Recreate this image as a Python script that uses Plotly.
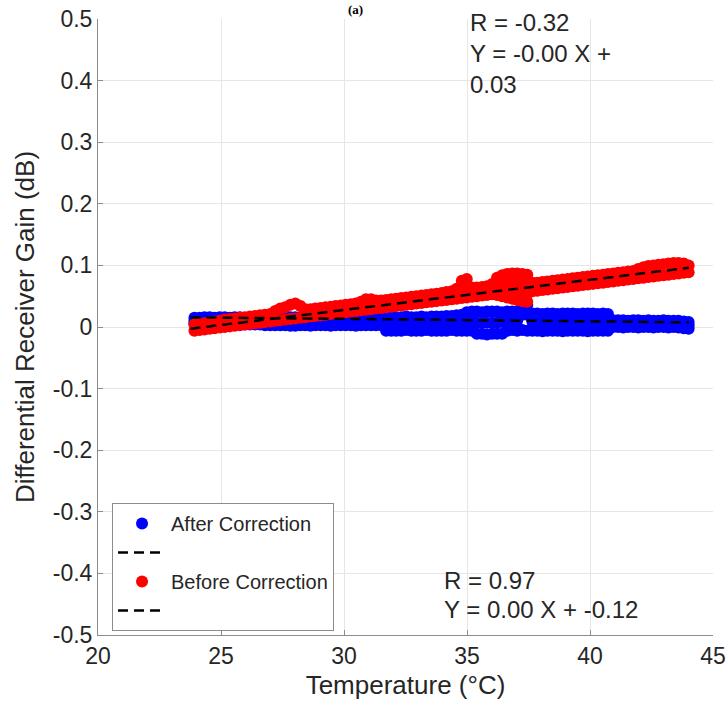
import plotly.graph_objects as go

# ---- data ----
temp = [23.92, 24.13, 24.33, 24.54, 24.74, 24.95, 25.15, 25.36, 25.56, 25.77,
        25.97, 26.18, 26.38, 26.59, 26.79, 27.00, 27.20, 27.41, 27.61, 27.82,
        28.02, 28.23, 28.43, 28.64, 28.84, 29.05, 29.25, 29.46, 29.66, 29.87,
        30.07, 30.28, 30.48, 30.69, 30.89, 31.10, 31.30, 31.51, 31.71, 31.92,
        32.12, 32.33, 32.53, 32.74, 32.94, 33.15, 33.35, 33.56, 33.76, 33.97,
        34.17, 34.38, 34.58, 34.79, 34.99, 35.20, 35.40, 35.61, 35.81, 36.02,
        36.22, 36.43, 36.63, 36.84, 37.04, 37.25, 37.45, 37.66, 37.86, 38.07,
        38.27, 38.48, 38.68, 38.89, 39.09, 39.30, 39.50, 39.71, 39.91, 40.12,
        40.32, 40.53, 40.73, 40.94, 41.14, 41.35, 41.55, 41.76, 41.96, 42.17,
        42.37, 42.58, 42.78, 42.99, 43.19, 43.40, 43.60, 43.81, 44.01]

# Before Correction (red): upper and lower edge of the band
before_hi = [0.004, 0.005, 0.006, 0.008, 0.009, 0.010, 0.012, 0.013, 0.014, 0.015,
             0.016, 0.017, 0.018, 0.019, 0.020, 0.021, 0.026, 0.030, 0.032, 0.036,
             0.038, 0.034, 0.029, 0.029, 0.030, 0.031, 0.032, 0.033, 0.034, 0.035,
             0.036, 0.037, 0.038, 0.041, 0.045, 0.045, 0.043, 0.043, 0.044, 0.045,
             0.046, 0.047, 0.048, 0.049, 0.050, 0.051, 0.052, 0.053, 0.054, 0.055,
             0.057, 0.058, 0.062, 0.075, 0.078, 0.064, 0.064, 0.065, 0.066, 0.070,
             0.080, 0.084, 0.086, 0.087, 0.087, 0.086, 0.085, 0.072, 0.072, 0.073,
             0.074, 0.075, 0.076, 0.077, 0.078, 0.079, 0.080, 0.081, 0.082, 0.083,
             0.084, 0.085, 0.086, 0.087, 0.088, 0.089, 0.090, 0.091, 0.094, 0.097,
             0.099, 0.100, 0.101, 0.102, 0.103, 0.104, 0.104, 0.103, 0.100]
before_lo = [-0.006, -0.005, -0.004, -0.003, -0.002, -0.001, 0.000, 0.001, 0.002, 0.003,
             0.004, 0.005, 0.006, 0.007, 0.008, 0.009, 0.010, 0.011, 0.012, 0.013,
             0.014, 0.015, 0.016, 0.017, 0.018, 0.019, 0.020, 0.021, 0.022, 0.023,
             0.024, 0.025, 0.026, 0.027, 0.028, 0.029, 0.030, 0.031, 0.032, 0.033,
             0.034, 0.035, 0.036, 0.037, 0.038, 0.039, 0.040, 0.041, 0.042, 0.043,
             0.044, 0.045, 0.046, 0.047, 0.048, 0.049, 0.050, 0.051, 0.052, 0.053,
             0.052, 0.050, 0.048, 0.046, 0.044, 0.042, 0.041, 0.058, 0.059, 0.060,
             0.061, 0.062, 0.063, 0.064, 0.065, 0.066, 0.067, 0.068, 0.069, 0.070,
             0.071, 0.072, 0.073, 0.074, 0.075, 0.076, 0.077, 0.078, 0.079, 0.080,
             0.081, 0.082, 0.083, 0.084, 0.085, 0.086, 0.087, 0.088, 0.089]
before_extra_x = [34.79, 34.99, 34.79, 34.99, 36.22, 36.43, 36.63, 36.84, 37.04, 37.25, 37.45,
                  36.43, 36.63, 36.84, 37.04, 37.25, 37.45]
before_extra_y = [0.066, 0.068, 0.057, 0.058, 0.066, 0.073, 0.075, 0.076, 0.075, 0.074, 0.072,
                  0.062, 0.062, 0.060, 0.058, 0.056, 0.054]

# After Correction (blue): upper edge, middle and lower edge of the band
after_hi = [0.015, 0.015, 0.016, 0.016, 0.015, 0.016, 0.016, 0.015, 0.016, 0.016,
            0.015, 0.016, 0.016, 0.015, 0.016, 0.016, 0.016, 0.016, 0.015, 0.016,
            0.016, 0.016, 0.015, 0.016, 0.016, 0.016, 0.015, 0.016, 0.016, 0.016,
            0.016, 0.015, 0.016, 0.016, 0.016, 0.016, 0.015, 0.016, 0.016, 0.017,
            0.016, 0.016, 0.017, 0.016, 0.016, 0.017, 0.016, 0.017, 0.017, 0.017,
            0.018, 0.018, 0.019, 0.020, 0.024, 0.025, 0.025, 0.024, 0.025, 0.025,
            0.025, 0.024, 0.025, 0.025, 0.025, 0.037, 0.036, 0.022, 0.022, 0.021,
            0.022, 0.022, 0.021, 0.022, 0.022, 0.022, 0.021, 0.022, 0.022, 0.022,
            0.021, 0.022, 0.021, 0.011, 0.011, 0.011, 0.010, 0.011, 0.011, 0.010,
            0.011, 0.010, 0.010, 0.011, 0.010, 0.010, 0.010, 0.009, 0.008]
after_mid = [0.010, 0.010, 0.011, 0.010, 0.010, 0.011, 0.010, 0.010, 0.010, 0.010,
             0.010, 0.010, 0.010, 0.009, 0.010, 0.009, 0.009, 0.010, 0.009, 0.009,
             0.009, 0.009, 0.009, 0.009, 0.009, 0.009, 0.009, 0.009, 0.009, 0.009,
             0.009, 0.009, 0.009, 0.009, 0.009, 0.009, 0.009, 0.009, 0.005, 0.005,
             0.005, 0.005, 0.005, 0.005, 0.005, 0.005, 0.005, 0.005, 0.005, 0.005,
             0.006, 0.006, 0.006, 0.007, 0.009, 0.009, 0.007, 0.007, 0.007, 0.007,
             0.007, 0.008, 0.009, 0.009, 0.010, 0.020, 0.020, 0.008, 0.008, 0.008,
             0.008, 0.008, 0.008, 0.008, 0.008, 0.008, 0.008, 0.008, 0.008, 0.008,
             0.008, 0.008, 0.008, 0.005, 0.005, 0.005, 0.005, 0.005, 0.005, 0.005,
             0.005, 0.005, 0.005, 0.005, 0.005, 0.005, 0.005, 0.004, 0.003]
after_lo = [0.006, 0.006, 0.006, 0.005, 0.006, 0.005, 0.005, 0.005, 0.005, 0.004,
            0.004, 0.004, 0.004, 0.004, 0.003, 0.003, 0.003, 0.003, 0.003, 0.002,
            0.002, 0.003, 0.003, 0.002, 0.003, 0.003, 0.003, 0.002, 0.003, 0.003,
            0.003, 0.003, 0.002, 0.003, 0.003, 0.003, 0.003, 0.003, -0.006, -0.006,
            -0.006, -0.006, -0.005, -0.006, -0.006, -0.006, -0.005, -0.006, -0.006, -0.006,
            -0.006, -0.005, -0.006, -0.006, -0.006, -0.006, -0.011, -0.011, -0.012, -0.011,
            -0.011, -0.011, -0.006, -0.005, -0.006, -0.005, -0.006, -0.006, -0.006, -0.007,
            -0.006, -0.006, -0.006, -0.007, -0.006, -0.006, -0.006, -0.006, -0.007, -0.006,
            -0.006, -0.006, -0.006, 0.000, 0.000, -0.001, 0.000, 0.000, -0.001, 0.000,
            0.000, -0.001, 0.000, 0.000, -0.001, 0.000, -0.001, -0.002, -0.003]

# linear fits shown as dashed lines
fit_x = [23.76, 44.02]
after_slope, after_icpt = -0.0004, 0.0252
before_slope, before_icpt = 0.00489, -0.119

after_txt = ["R = -0.32", "Y = -0.00 X +", "0.03"]
before_txt = ["R = 0.97", "Y = 0.00 X + -0.12"]

x_ticks = [20, 25, 30, 35, 40, 45]
y_ticks = [0.5, 0.4, 0.3, 0.2, 0.1, 0, -0.1, -0.2, -0.3, -0.4, -0.5]

TXT = "#262626"
FONT = "Liberation Sans, Arial, sans-serif"
DASH = "10px,6px"

fig = go.Figure()
fig.add_trace(go.Scatter(
    x=temp + temp + temp, y=after_hi + after_mid + after_lo,
    mode="markers", name="After Correction", legendrank=1,
    marker=dict(color="#0000ff", size=12, line=dict(width=0))))
fig.add_trace(go.Scatter(
    x=temp + temp + before_extra_x, y=before_hi + before_lo + before_extra_y,
    mode="markers", name="Before Correction", legendrank=3,
    marker=dict(color="#ff0000", size=12, line=dict(width=0))))
fig.add_trace(go.Scatter(
    x=fit_x, y=[after_slope * v + after_icpt for v in fit_x],
    mode="lines", name=" ", legendrank=2,
    line=dict(color="black", width=2.5, dash=DASH)))
fig.add_trace(go.Scatter(
    x=fit_x, y=[before_slope * v + before_icpt for v in fit_x],
    mode="lines", name="  ", legendrank=4,
    line=dict(color="black", width=2.5, dash=DASH)))

anns = []
for i, t in enumerate(after_txt):
    anns.append(dict(x=35.03, y=0.495 - i * 0.0505, xref="x", yref="y", text=t,
                     showarrow=False, xanchor="left", yanchor="middle",
                     font=dict(size=24, color=TXT, family=FONT)))
for i, t in enumerate(before_txt):
    anns.append(dict(x=34.0, y=-0.411 - i * 0.047, xref="x", yref="y", text=t,
                     showarrow=False, xanchor="left", yanchor="middle",
                     font=dict(size=24, color=TXT, family=FONT)))
anns.append(dict(x=0.418, y=1.0308, xref="paper", yref="paper", text="<b>(a)</b>",
                 showarrow=False, xanchor="center", yanchor="top",
                 font=dict(size=13, color="black", family="Liberation Serif, serif")))

axis_common = dict(
    showgrid=True, gridcolor="#e6e6e6", gridwidth=1, zeroline=False,
    showline=True, linecolor="#8c8c8c", linewidth=1,
    ticks="inside", ticklen=5, tickcolor="#8c8c8c",
    tickfont=dict(size=23, color=TXT, family=FONT),
    automargin=False,
)

fig.update_layout(
    width=728, height=714,
    margin=dict(l=98, r=15, t=19, b=79),
    paper_bgcolor="white", plot_bgcolor="white",
    font=dict(family=FONT, color=TXT),
    showlegend=True,
    legend=dict(x=0.0228, y=0.2143, xanchor="left", yanchor="top",
                bgcolor="white", bordercolor="#8c8c8c", borderwidth=1,
                font=dict(size=20, color=TXT, family=FONT),
                itemwidth=48, tracegroupgap=0, traceorder="normal"),
    annotations=anns,
    xaxis=dict(range=[20, 45], tickvals=x_ticks, ticktext=[str(v) for v in x_ticks],
               title=dict(text="Temperature (°C)", font=dict(size=26, color=TXT, family=FONT),
                          standoff=8),
               **axis_common),
    yaxis=dict(range=[-0.5, 0.5], tickvals=y_ticks, ticktext=[f"{v:g}" for v in y_ticks],
               title=dict(text="Differential Receiver Gain (dB)",
                          font=dict(size=26, color=TXT, family=FONT), standoff=10),
               **axis_common),
)

# remove the browser's default 8px page margin so the figure sits at the window corner
fig.write_html("out.html", config={"displayModeBar": False},
               post_script="document.body.style.margin='0px';")
